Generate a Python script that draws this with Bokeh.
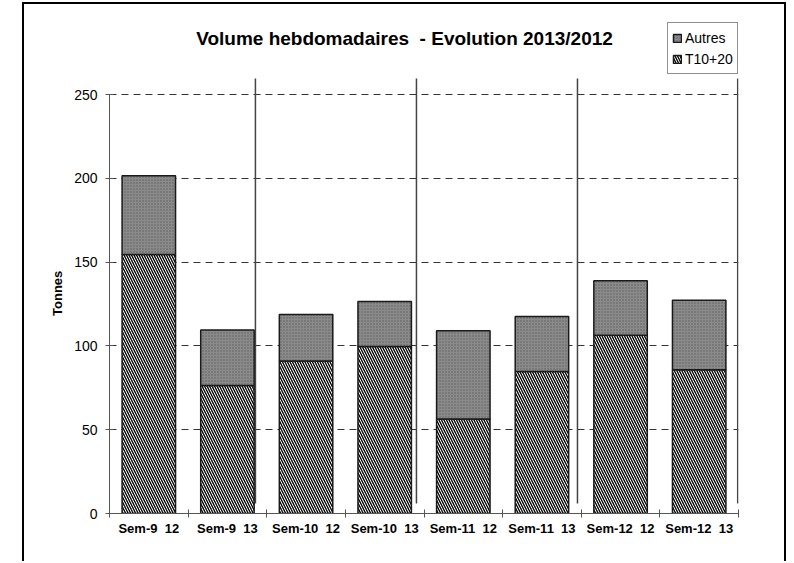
from bokeh.plotting import figure
from bokeh.models import (FixedTicker, Label, Legend, LegendItem,
                          ColumnDataSource, Range1d)
from bokeh.embed import file_html
from bokeh.resources import INLINE

# ---- data ----
categories = ["Sem-9  12", "Sem-9  13", "Sem-10  12", "Sem-10  13",
              "Sem-11  12", "Sem-11  13", "Sem-12  12", "Sem-12  13"]
t10_20 = [154.5, 76.3, 91.0, 99.6, 56.4, 84.8, 106.3, 85.7]
autres = [47.0, 33.2, 27.7, 26.9, 52.6, 32.7, 32.5, 41.5]
y_ticks = [0, 50, 100, 150, 200, 250]
separator_x = [1.856, 3.904, 5.952, 7.99]
separator_y = (6.0, 259.5)
title_text = "Volume hebdomadaires  - Evolution 2013/2012"
y_label = "Tonnes"

FONT = "Liberation Sans"


def keep_spaces(s):
    # keep double spaces visible in SVG text
    return s.replace("  ", " \u00a0")


xs = [i + 0.5 for i in range(len(categories))]
source = ColumnDataSource(dict(x=xs, t10=t10_20, autres=autres))

p = figure(width=764, height=559, output_backend="svg", toolbar_location=None,
           x_range=Range1d(0, 8.0), y_range=Range1d(0, 303.7),
           min_border_left=85, min_border_right=50,
           min_border_top=0, min_border_bottom=50)
p.outline_line_color = None
p.background_fill_color = "white"
p.border_fill_color = "white"
p.styles = {"margin-left": "22px", "margin-top": "2px",
            "border-left": "2px solid black", "border-right": "2px solid black",
            "border-top": "2px solid black"}

# grid
p.xgrid.visible = False
p.ygrid.ticker = FixedTicker(ticks=[50, 100, 150, 200, 250])
p.ygrid.grid_line_color = "#333333"
p.ygrid.grid_line_dash = "7 5"
p.ygrid.grid_line_width = 1

# separators
p.segment(x0=separator_x, x1=separator_x,
          y0=[separator_y[0]] * len(separator_x), y1=[separator_y[1]] * len(separator_x),
          line_color="#444444", line_width=1.5)

# bars
r = p.vbar_stack(["t10", "autres"], x="x", width=0.68, source=source,
                 fill_color=["white", "#8a8a8a"],
                 hatch_pattern=["\\", "."],
                 hatch_color=["black", "#5e5e5e"],
                 hatch_scale=[5, 3], hatch_weight=[1.3, 1],
                 line_color="#1a1a1a", line_width=1.5)

# axes
xa = p.xaxis[0]
xa.ticker = FixedTicker(ticks=xs, minor_ticks=list(range(0, 9)))
xa.major_label_overrides = {x: keep_spaces(c) for x, c in zip(xs, categories)}
xa.bounds = (0, 8)
xa.major_tick_in = 0
xa.major_tick_out = 0
xa.minor_tick_in = 4
xa.minor_tick_out = 4
xa.minor_tick_line_color = "#555555"
xa.axis_line_color = "#555555"
xa.major_label_text_font = FONT
xa.major_label_text_font_style = "bold"
xa.major_label_text_font_size = "13px"
xa.major_label_text_color = "black"
xa.major_label_standoff = 3

ya = p.yaxis[0]
ya.ticker = FixedTicker(ticks=y_ticks, minor_ticks=[])
ya.bounds = (0, 250)
ya.major_tick_in = 4
ya.major_tick_out = 4
ya.major_tick_line_color = "#555555"
ya.axis_line_color = "#555555"
ya.major_label_text_font = FONT
ya.major_label_text_font_size = "14px"
ya.major_label_text_color = "black"
ya.major_label_standoff = 8
# trailing no-break spaces shift the centred label down to where the reference has it
ya.axis_label = y_label + "\u00a0" * 19
ya.axis_label_text_font = FONT
ya.axis_label_text_font_style = "bold"
ya.axis_label_text_font_size = "13px"
ya.axis_label_text_color = "black"
ya.axis_label_standoff = 6

# title
p.add_layout(Label(x=295, y=475, x_units="screen", y_units="screen",
                   text=keep_spaces(title_text),
                   text_font=FONT, text_font_style="bold", text_font_size="19px",
                   text_align="center", text_baseline="middle", text_color="black"))

# legend
legend = Legend(items=[LegendItem(label="Autres", renderers=[r[1]]),
                       LegendItem(label="T10+20", renderers=[r[0]])],
                location=(558, 439), orientation="vertical",
                glyph_width=10, glyph_height=10, label_height=21, label_width=40,
                label_standoff=3, spacing=0, padding=4, margin=0,
                label_text_font=FONT, label_text_font_size="14px",
                label_text_color="black",
                border_line_color="#222222", border_line_width=1,
                background_fill_color="white", background_fill_alpha=1)
p.add_layout(legend, "center")

open("out.html", "w").write(file_html(p, INLINE))
